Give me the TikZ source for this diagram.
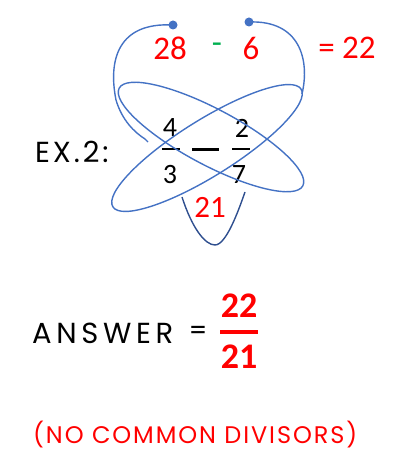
\documentclass[tikz,border=0pt]{standalone}
\usepackage{fontspec}
\setmainfont{Carlito}
\newfontfamily\handfont{Poppins}
\usetikzlibrary{positioning}
\definecolor{orbit}{HTML}{4472C4}
\definecolor{orbitdark}{HTML}{2F4F8F}
\definecolor{ansred}{HTML}{FF0000}
\definecolor{mgreen}{HTML}{00B050}

\begin{document}
\begin{tikzpicture}[x=1pt, y=-1pt,
    orbitline/.style={draw=orbit, line width=1.4pt},
    num/.style={inner sep=0pt, font=\fontsize{33}{33}\selectfont},
    fracnum/.style={inner sep=0pt, font=\fontsize{28}{28}\selectfont},
    rednum/.style={num, text=ansred},
    hand/.style={inner sep=0pt, anchor=base west}]
      \useasboundingbox (0, 0) rectangle (416, 476);
      % top subtraction
      \node[rednum] (n28) at (170, 48) {28};
      \node[num, text=mgreen] (minus) at (217, 48) {-};
      \node[rednum] (n6) at (251, 48) {6};
      \node[rednum] (res) at (347, 48) {= 22};
      % the two fractions
      \node[hand, font=\handfont\addfontfeature{LetterSpace=10}\fontsize{29}{29}\selectfont] (ex) at (35, 162) {EX.2:};
      \node[fracnum] (a) at (170, 128) {4};
      \node[fracnum] (b) at (170, 175) {3};
      \node[fracnum] (c) at (242, 128) {2};
      \node[fracnum] (d) at (239, 175) {7};
      \draw[line width=2pt] (162, 149) -- (180, 149);
      \draw[line width=2pt] (232, 149) -- (250, 149);
      \draw[line width=3pt] (192, 149) -- (219, 149);
      \node[rednum, font=\fontsize{31}{31}\selectfont] (n21) at (210, 207) {21};
      % orbits
      \draw[orbitline, rotate around={-28:(211, 137)}] (211, 137) ellipse [x radius=104, y radius=28];
      \draw[orbitline, rotate around={32:(207, 148)}] (207, 148) ellipse [x radius=111, y radius=28];
      \coordinate (dl) at (173, 25);
      \coordinate (dr) at (249, 22);
      \coordinate (el) at (148, 142);
      \coordinate (er) at (302, 94);
      \draw[orbitline] (dl) .. controls (118, 22) and (108, 60) .. (116, 100) .. controls (122, 120) and (134, 132) .. (145, 139) -- (el);
      \draw[orbitline] (dr) .. controls (300, 20) and (310, 60) .. (er);
      \fill[orbit] (dl) circle (4.5);
      \fill[orbit] (dr) circle (4.5);
      \coordinate (vl) at (182, 197);
      \coordinate (vb) at (215, 245);
      \coordinate (vr) at (245, 192);
      \draw[draw=orbitdark, line width=1.4pt] (vl) .. controls (192, 228) and (205, 245) .. (vb) .. controls (226, 245) and (238, 212) .. (vr);
      % answer
      \node[hand, font=\handfont\addfontfeature{LetterSpace=16}\fontsize{29}{29}\selectfont] (ans) at (32, 343) {ANSWER};
      \node[num] (eq) at (198, 333) {=};
      \node[rednum, font=\bfseries\fontsize{36}{36}\selectfont] (p) at (239, 306) {22};
      \node[rednum, font=\bfseries\fontsize{36}{36}\selectfont] (q) at (239, 357) {21};
      \draw[ansred, line width=3.5pt] (220, 332) -- (258, 332);
      \node[hand, text=ansred, font=\handfont\addfontfeature{LetterSpace=8}\fontsize{24}{24}\selectfont] (note) at (33, 443) {(NO COMMON DIVISORS)};
    \end{tikzpicture}
\end{document}
